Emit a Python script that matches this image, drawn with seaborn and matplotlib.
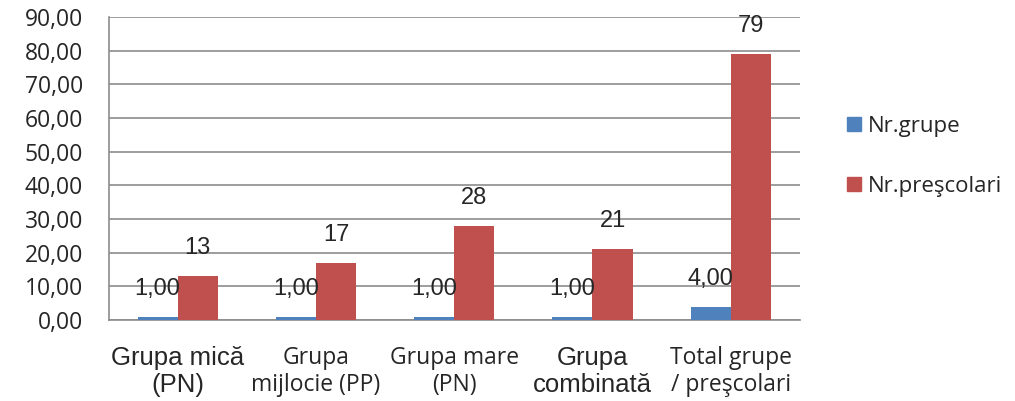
import pandas as pd
import seaborn as sns
import matplotlib.pyplot as plt
from matplotlib.patches import Patch
from matplotlib.ticker import FuncFormatter

categories = ["Grupa mică\n(PN)", "Grupa\nmijlocie (PP)", "Grupa mare\n(PN)",
              "Grupa\ncombinată", "Total grupe\n/ preşcolari"]
nr_grupe = [1, 1, 1, 1, 4]
nr_prescolari = [13, 17, 28, 21, 79]
series = ["Nr.grupe", "Nr.preşcolari"]
colors = ["#4F81BD", "#C0504D"]

df = pd.DataFrame({
    "categorie": categories * 2,
    "serie": [series[0]] * 5 + [series[1]] * 5,
    "valoare": nr_grupe + nr_prescolari,
})

sns.set_style("white")
plt.rcParams["font.family"] = ["Open Sans", "DejaVu Sans"]

fig = plt.figure(figsize=(10.15, 4.01), dpi=100)
ax = fig.add_axes([0.107, 0.202, 0.681, 0.756])

sns.barplot(data=df, x="categorie", y="valoare", hue="serie", palette=colors,
            width=0.58, saturation=1, legend=False, linewidth=0, ax=ax, zorder=3)

ax.set_ylim(0, 90)
ax.set_yticks(range(0, 91, 10))
ax.yaxis.set_major_formatter(FuncFormatter(lambda v, p: f"{v:.2f}".replace(".", ",")))
ax.grid(axis="y", color="#8c8c8c", linewidth=1.2, zorder=0)
ax.set_xlabel("")
ax.set_ylabel("")
for s in ["top", "right"]:
    ax.spines[s].set_visible(False)
for s in ["left", "bottom"]:
    ax.spines[s].set_color("#8c8c8c")
    ax.spines[s].set_linewidth(1.2)
ax.tick_params(axis="y", labelsize=16.5, length=0, pad=18.5)
ax.tick_params(axis="x", length=0, pad=19)
ax.set_xticks(range(len(categories)))
ax.set_xticklabels(categories)
label_fonts = [("Liberation Sans", 18.5), ("Open Sans", 16.5), ("Open Sans", 16.5),
               ("Liberation Sans", 18.5), ("Open Sans", 16.5)]
for t, (fam, sz) in zip(ax.get_xticklabels(), label_fonts):
    t.set_fontfamily([fam, "DejaVu Sans"])
    t.set_fontsize(sz)
    t.set_linespacing(1.12)

# data labels
for i, cont in enumerate(ax.containers):
    for bar, v in zip(cont, [nr_grupe, nr_prescolari][i]):
        txt = f"{v:.2f}".replace(".", ",") if i == 0 else f"{v}"
        ax.annotate(txt, (bar.get_x() + bar.get_width() / 2, bar.get_height()),
                    xytext=(0, 20), textcoords="offset points", ha="center",
                    va="center", fontsize=17,
                    family=["Liberation Sans", "DejaVu Sans"], zorder=5)

handles = [Patch(color=c, label=s) for c, s in zip(colors, series)]
fig.legend(handles=handles, loc="center left", bbox_to_anchor=(0.815, 0.61),
           frameon=False, fontsize=16, handlelength=0.6, handleheight=0.6,
           handletextpad=0.35, labelspacing=1.75)

fig.savefig("out.png", dpi=100)
